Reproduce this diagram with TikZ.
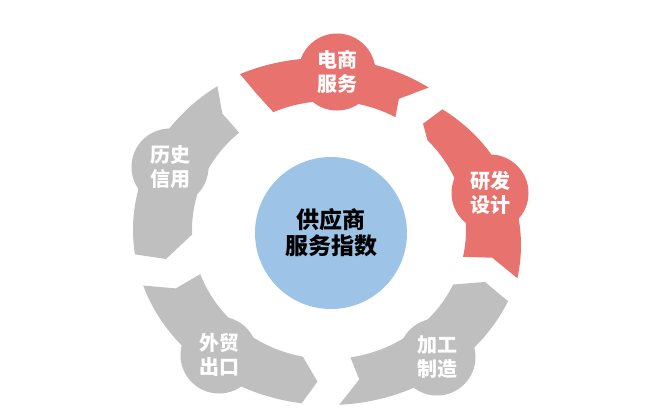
\documentclass[tikz,border=0pt]{standalone}
\usepackage{fontspec}
\newfontfamily\cjk{Noto Sans CJK SC}
\definecolor{segred}{HTML}{E8736E}
\definecolor{seggray}{HTML}{BFBFBF}
\definecolor{hubblue}{HTML}{9DC3E6}
\def\rcx{329}\def\rcy{230}
\def\rao{196}\def\rbo{175}
\def\rai{137}\def\rbi{129}
\def\ram{166}\def\rbm{152}
\def\kt{1}\def\kh{1}
% #1 colour, #2 tail outer, #3 tail mid, #4 tail inner, #5 head outer, #6 head notch, #7 head inner
% \kt, \kh: outer radius factor at tail and head
\newcommand\ringseg[7]{%
  \fill[#1] ({\rcx+\kt*\rao*cos(#2)},{\rcy-\kt*\rbo*sin(#2)})
    -- plot[domain=#2:#5,samples=40] ({\rcx+(\kt+(\kh-\kt)*(\x-(#2))/((#5)-(#2)))*\rao*cos(\x)},{\rcy-(\kt+(\kh-\kt)*(\x-(#2))/((#5)-(#2)))*\rbo*sin(\x)})
    -- ({\rcx+\kh*\ram*cos(#6)},{\rcy-\kh*\rbm*sin(#6)})
    -- ({\rcx+\rai*cos(#7)},{\rcy-\rbi*sin(#7)})
    -- plot[domain=#7:#4,samples=40] ({\rcx+\rai*cos(\x)},{\rcy-\rbi*sin(\x)})
    -- ({\rcx+\kt*\ram*cos(#3)},{\rcy-\kt*\rbm*sin(#3)}) -- cycle;}
\tikzset{
  lab/.style={circle, minimum size=77pt, inner sep=0pt, text=white, align=center,
    font=\cjk\bfseries\fontsize{20}{23.5}\selectfont},
  hub/.style={circle, fill=hubblue, minimum size=152pt, inner sep=0pt, text=black, align=center,
    font=\cjk\bfseries\fontsize{23}{26}\selectfont}
}
\begin{document}
\begin{tikzpicture}[x=1pt,y=-1pt]
\useasboundingbox (0,0) rectangle (661,410);
% segments (clockwise arrows)
\def\kt{1}\def\kh{0.96}
\ringseg{segred}{117}{116}{114}{58}{64}{61}
\def\kt{0.9}\def\kh{1}
\ringseg{segred}{50}{51}{44}{-16}{-10.5}{-12}
\def\kt{1}\def\kh{1}
\ringseg{seggray}{-24}{-20}{-25}{-87}{-79.5}{-81}
\ringseg{seggray}{262}{266}{259}{198.5}{202.6}{200}
\ringseg{seggray}{188}{191}{182}{124.7}{130}{131}
% label circles
\node[lab, fill=segred] (ds) at (337,72) {电商\\服务};
\node[lab, fill=segred] (yf) at (490,193) {研发\\设计};
\node[lab, fill=seggray] (jg) at (437,357) {加工\\制造};
\node[lab, fill=seggray] (wm) at (219,355) {外贸\\出口};
\node[lab, fill=seggray] (ls) at (170,167) {历史\\信用};
% hub
\node[hub] (center) at (331,233) {供应商\\服务指数};
\end{tikzpicture}
\end{document}
